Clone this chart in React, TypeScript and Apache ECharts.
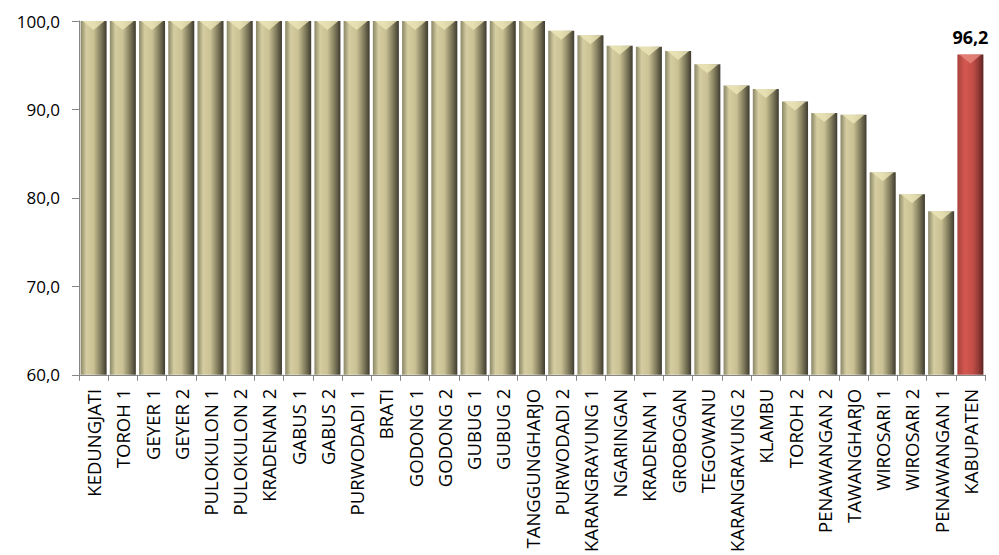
import React, { useEffect, useRef } from "react";
import * as echarts from "echarts";

const categories = [
  "KEDUNGJATI", "TOROH 1", "GEYER 1", "GEYER 2", "PULOKULON 1", "PULOKULON 2",
  "KRADENAN 2", "GABUS 1", "GABUS 2", "PURWODADI 1", "BRATI", "GODONG 1",
  "GODONG 2", "GUBUG 1", "GUBUG 2", "TANGGUNGHARJO", "PURWODADI 2",
  "KARANGRAYUNG 1", "NGARINGAN", "KRADENAN 1", "GROBOGAN", "TEGOWANU",
  "KARANGRAYUNG 2", "KLAMBU", "TOROH 2", "PENAWANGAN 2", "TAWANGHARJO",
  "WIROSARI 1", "WIROSARI 2", "PENAWANGAN 1", "KABUPATEN",
];

const values = [
  100, 100, 100, 100, 100, 100, 100, 100, 100, 100, 100, 100, 100, 100, 100, 100,
  98.9, 98.4, 97.2, 97.1, 96.6, 95.1, 92.7, 92.3, 90.9, 89.6, 89.4, 82.9, 80.4,
  78.5, 96.2,
];

const highlightCategory = "KABUPATEN";
const yTicks = { min: 60, max: 100, interval: 10 };

const oliveGradient = new echarts.graphic.LinearGradient(0, 0, 1, 0, [
  { offset: 0, color: "#8a8767" },
  { offset: 0.22, color: "#d5cda1" },
  { offset: 0.5, color: "#c9c094" },
  { offset: 0.78, color: "#7f7a5b" },
  { offset: 1, color: "#3f3b2f" },
]);

const redGradient = new echarts.graphic.LinearGradient(0, 0, 1, 0, [
  { offset: 0, color: "#a8433f" },
  { offset: 0.3, color: "#d4584f" },
  { offset: 0.6, color: "#c24e48" },
  { offset: 0.85, color: "#8a3632" },
  { offset: 1, color: "#5c2523" },
]);

const fmt = (v: number) => v.toFixed(1).replace(".", ",");

export default function App() {
  const ref = useRef<HTMLDivElement>(null);

  useEffect(() => {
    if (!ref.current) return;
    const chart = echarts.init(ref.current, undefined, { renderer: "svg" });
    const data = values.map((v, i) => {
      const hl = categories[i] === highlightCategory;
      return {
        value: v,
        itemStyle: { color: hl ? redGradient : oliveGradient },
        label: hl
          ? {
              show: true,
              position: "top",
              distance: 9,
              formatter: (p: any) => fmt(p.value),
              fontFamily: "Open Sans",
              fontWeight: "bold",
              fontSize: 18,
              color: "#000",
            }
          : { show: false },
      };
    });

    const bevelData = values.map((v, i) => [i, v]);

    chart.setOption({
      animation: false,
      backgroundColor: "#ffffff",
      grid: { left: 79, right: 14, top: 21, bottom: 177, containLabel: false },
      xAxis: {
        type: "category",
        data: categories,
        boundaryGap: true,
        axisLine: { show: true, lineStyle: { color: "#868686", width: 1 } },
        axisTick: { show: true, alignWithLabel: false, length: 6, lineStyle: { color: "#868686" } },
        axisLabel: {
          rotate: 90,
          interval: 0,
          margin: 14,
          fontFamily: "Open Sans",
          fontSize: 18.5,
          color: "#000",
        },
        splitLine: { show: false },
      },
      yAxis: {
        type: "value",
        min: yTicks.min,
        max: yTicks.max,
        interval: yTicks.interval,
        axisLine: { show: true, lineStyle: { color: "#868686", width: 1 } },
        axisTick: { show: true, length: 7, lineStyle: { color: "#868686" } },
        axisLabel: {
          formatter: (v: number) => fmt(v),
          fontFamily: "Open Sans",
          fontSize: 17,
          color: "#000",
          margin: 19,
        },
        splitLine: { show: false },
      },
      series: [
        {
          type: "bar",
          data,
          barCategoryGap: "11%",
          z: 2,
        },
        {
          type: "custom",
          data: bevelData,
          z: 3,
          silent: true,
          renderItem: (params: any, api: any) => {
            const idx = api.value(0);
            const val = api.value(1);
            const p = api.coord([idx, val]);
            const w = api.size([1, 0])[0] * 0.89;
            const hl = categories[idx] === highlightCategory;
            return {
              type: "polygon",
              shape: {
                points: [
                  [p[0] - w / 2 + 2, p[1]],
                  [p[0] + w / 2 - 2, p[1]],
                  [p[0], p[1] + 9],
                ],
              },
              style: {
                fill: hl ? "#e88a80" : "#ece6b8",
                opacity: 0.8,
              },
            };
          },
        },
      ],
    });

    return () => chart.dispose();
  }, []);

  return <div ref={ref} style={{ width: 999, height: 555, position: "absolute", left: 0, top: 0 }} />;
}
